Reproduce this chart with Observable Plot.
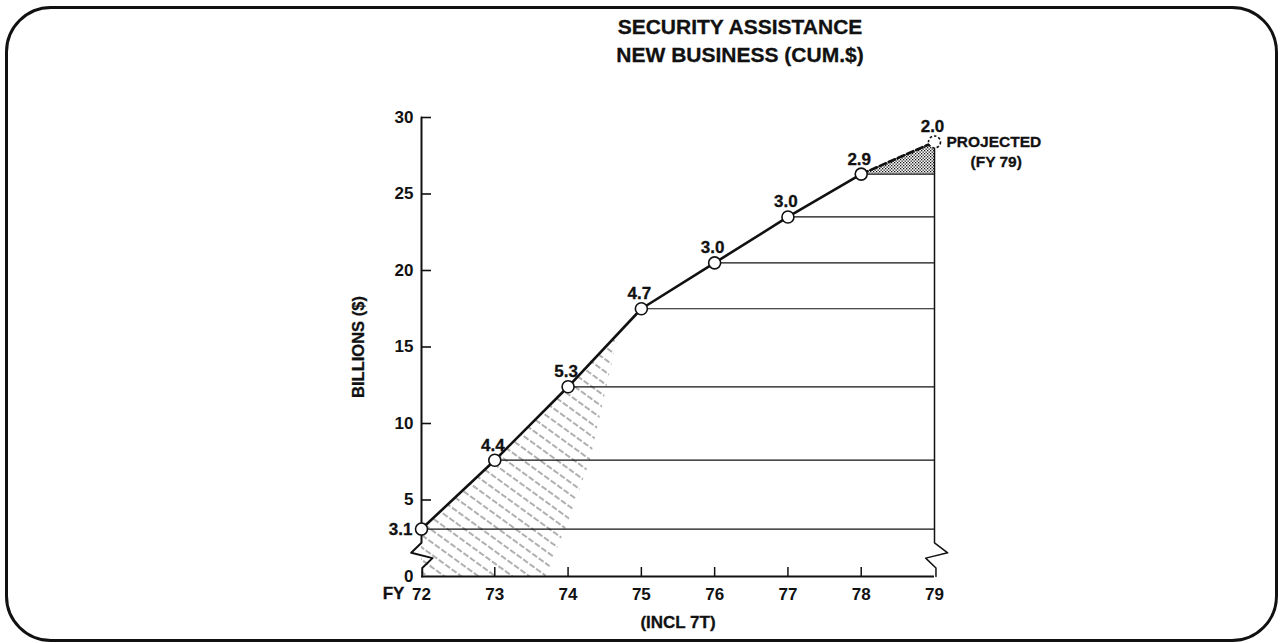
<!DOCTYPE html>
<html><head><meta charset="utf-8">
<script src="https://cdn.jsdelivr.net/npm/d3@7"></script>
<script src="https://cdn.jsdelivr.net/npm/@observablehq/plot@0.6"></script>
<style>
html,body{margin:0;padding:0;background:#fff;}
#wrap{position:relative;width:1281px;height:643px;overflow:hidden;font-family:"Liberation Sans",Arial,Helvetica,sans-serif;color:#111;}
#frame{position:absolute;left:5px;top:6px;width:1273px;height:636px;box-sizing:border-box;border:3px solid #111;border-radius:46px;}
#title{position:absolute;left:540px;width:400px;top:13px;text-align:center;font-weight:bold;font-size:21px;line-height:28px;-webkit-text-stroke:0.3px #111;}
#chart{position:absolute;left:0;top:0;}
</style></head>
<body>
<div id="wrap">
<svg width="0" height="0" style="position:absolute">
 <defs>
  <pattern id="hatch" width="16" height="20" patternUnits="userSpaceOnUse" patternTransform="rotate(36)">
    <line x1="0" y1="5" x2="16" y2="5" stroke="#222" stroke-width="0.85" stroke-dasharray="6 2"/>
    <line x1="0" y1="15" x2="16" y2="15" stroke="#222" stroke-width="0.85" stroke-dasharray="6 2" stroke-dashoffset="4"/>
  </pattern>
  <pattern id="stipple" width="3" height="3" patternUnits="userSpaceOnUse">
    <rect width="3" height="3" fill="#fff"/>
    <rect x="0" y="0" width="1.3" height="1.3" fill="#111"/>
    <rect x="1.5" y="1.5" width="1.3" height="1.3" fill="#111"/>
  </pattern>
 </defs>
</svg>
<div id="frame"></div>
<div id="title">SECURITY ASSISTANCE<br>NEW BUSINESS (CUM.$)</div>
<div id="chart"></div>
</div>
<script>
// ---- data ----
const years = [72, 73, 74, 75, 76, 77, 78, 79];
const cumulative = [3.1, 7.6, 12.4, 17.5, 20.5, 23.5, 26.3, 28.4];
const increments = ["3.1", "4.4", "5.3", "4.7", "3.0", "3.0", "2.9", "2.0"];
const yTickLabels = [0, 5, 10, 15, 20, 25, 30];
const yTickMarks = [5, 10, 15, 20, 25, 30];
const xTickLabels = [72, 73, 74, 75, 76, 77, 78, 79];
const xTickMarks = [73, 74, 75, 76, 77, 78];
// axis-break zigzags (data units)
const breakY = [2.2, 1.55, 1.2, 0.55, 0];
const leftBreakX = [72, 71.86, 72.15, 72.01, 72.01];
const rightBreakX = [79, 79.18, 78.88, 79.02, 79.02];
// hatched region under the early part of the curve
const hatchX = [72, 73, 73.7, 74, 74.3, 74.7];
const hatchTop = [3.1, 7.6, 11, 12.4, 14, 16];
const hatchBottom = [0, 0, 0, 3.5, 7.5, 16];

const points = years.map((year, i) => ({year, value: cumulative[i], label: increments[i]}));
const actual = points.slice(0, -1);
const projSeg = points.slice(-2);
const projected = points.slice(-1);
const lastYear = years[years.length - 1];
const firstYear = years[0];
const leftAxis = [{x: firstYear, y: yTickLabels[yTickLabels.length - 1]}, ...breakY.map((y, i) => ({x: leftBreakX[i], y}))];
const rightAxis = [{x: lastYear, y: cumulative[cumulative.length - 1]}, ...breakY.map((y, i) => ({x: rightBreakX[i], y}))];
const hatch = hatchX.map((x, i) => ({x, top: hatchTop[i], bottom: hatchBottom[i]}));
const ink = "#111";
const bold = {fontWeight: "bold", fill: ink, stroke: ink, strokeWidth: 0.3};

const chart = Plot.plot({
  width: 1281,
  height: 643,
  marginLeft: 421,
  marginRight: 347,
  marginTop: 117,
  marginBottom: 67,
  style: {fontFamily: "'Liberation Sans', Arial, Helvetica, sans-serif", background: "transparent", color: ink},
  x: {domain: [firstYear, lastYear]},
  y: {domain: [0, 30]},
  marks: [
    Plot.areaY(hatch, {x: "x", y1: "bottom", y2: "top", fill: "url(#hatch)", fillOpacity: 0.85}),
    Plot.areaY(projSeg, {x: "year", y1: () => cumulative[cumulative.length - 2], y2: "value", fill: "url(#stipple)"}),
    Plot.ruleY(actual, {y: "value", x1: "year", x2: () => lastYear, stroke: ink, strokeWidth: 1.2}),
    Plot.ruleY([0], {x1: () => firstYear, x2: () => lastYear, stroke: ink, strokeWidth: 2}),
    Plot.line(leftAxis, {x: "x", y: "y", stroke: ink, strokeWidth: 2}),
    Plot.line(rightAxis, {x: "x", y: "y", stroke: ink, strokeWidth: 1.5}),
    Plot.axisY(yTickMarks, {text: null, tickSize: -10, label: null, strokeWidth: 1.6}),
    Plot.axisX(xTickMarks, {text: null, tickSize: -9, label: null, strokeWidth: 1.5}),
    Plot.axisY(yTickLabels, {tickSize: 0, tickPadding: 8, label: null, fontSize: 17, fontWeight: "bold"}),
    Plot.axisX(xTickLabels, {tickSize: 0, tickPadding: 11, label: null, fontSize: 17, fontWeight: "bold"}),
    Plot.line(actual, {x: "year", y: "value", stroke: ink, strokeWidth: 2.6}),
    Plot.line(projSeg, {x: "year", y: "value", stroke: ink, strokeWidth: 2.6, strokeDasharray: "7,3"}),
    Plot.dot(actual, {x: "year", y: "value", r: 6, fill: "#fff", stroke: ink, strokeWidth: 1.6}),
    Plot.dot(projected, {x: "year", y: "value", r: 6, fill: "#fff", stroke: ink, strokeWidth: 1.6, strokeDasharray: "2.5,2"}),
    Plot.text(points.slice(1), {x: "year", y: "value", text: "label", dy: -15, dx: -2, fontSize: 17, ...bold}),
    Plot.text(points.slice(0, 1), {x: "year", y: "value", text: "label", dx: -9, textAnchor: "end", fontSize: 17, ...bold}),
    Plot.text(["PROJECTED"], {x: () => lastYear, y: () => cumulative[cumulative.length - 1], text: d => d, dx: 12, textAnchor: "start", fontSize: 15.5, ...bold}),
    Plot.text(["(FY 79)"], {x: () => lastYear, y: () => cumulative[cumulative.length - 1], text: d => d, dx: 36, dy: 20, textAnchor: "start", fontSize: 15.5, ...bold}),
    Plot.text(["FY"], {x: () => firstYear, y: () => 0, text: d => d, dx: -28, dy: 17, fontSize: 17, ...bold}),
    Plot.text(["(INCL 7T)"], {frameAnchor: "bottom", text: d => d, dy: 46, lineAnchor: "middle", textAnchor: "middle", fontSize: 17, ...bold}),
    Plot.text(["BILLIONS ($)"], {frameAnchor: "left", text: d => d, dx: -63, rotate: -90, textAnchor: "middle", lineAnchor: "middle", fontSize: 16.5, ...bold})
  ]
});
document.getElementById("chart").appendChild(chart);
</script>
</body></html>
